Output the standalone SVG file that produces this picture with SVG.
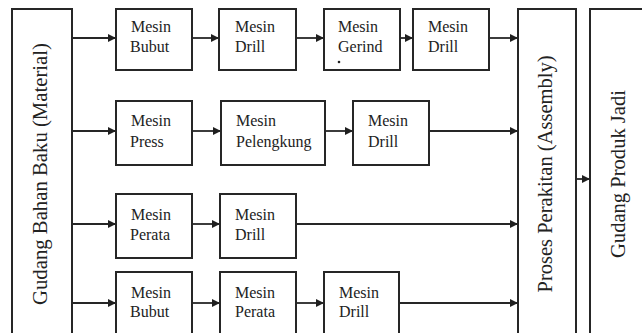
<svg xmlns="http://www.w3.org/2000/svg" width="642" height="333" viewBox="0 0 642 333">
  <style>
    .box { fill: #fff; stroke: #262626; stroke-width: 2; }
    .lbl { font-family: "Liberation Serif", "Times New Roman", serif; font-size: 16px; fill: #222; }
    .vlbl { font-family: "Liberation Serif", "Times New Roman", serif; font-size: 20px; fill: #222; text-anchor: middle; }
    .conn { fill: none; stroke: #262626; stroke-width: 1.8; marker-end: url(#arrow); }
  </style>
  <defs>
    <marker id="arrow" markerUnits="userSpaceOnUse" markerWidth="9" markerHeight="8" refX="8" refY="4" orient="auto">
      <path d="M0,0 L8,4 L0,8 z" fill="#1f1f1f"/>
    </marker>
  </defs>
  <rect width="642" height="333" fill="#fff"/>

  <!-- connectors -->
  <g id="connectors">
    <!-- row 1 -->
    <line class="conn" x1="72" y1="38" x2="116" y2="38"/>
    <line class="conn" x1="192" y1="38" x2="219" y2="38"/>
    <line class="conn" x1="296" y1="38" x2="324" y2="38"/>
    <line class="conn" x1="400" y1="38" x2="413" y2="38"/>
    <line class="conn" x1="489" y1="38" x2="518" y2="38"/>
    <!-- row 2 -->
    <line class="conn" x1="72" y1="131" x2="116" y2="131"/>
    <line class="conn" x1="192" y1="131" x2="221" y2="131"/>
    <line class="conn" x1="325" y1="131" x2="353" y2="131"/>
    <line class="conn" x1="429" y1="131" x2="518" y2="131"/>
    <!-- row 3 -->
    <line class="conn" x1="72" y1="224" x2="116" y2="224"/>
    <line class="conn" x1="192" y1="224" x2="220" y2="224"/>
    <line class="conn" x1="296" y1="224" x2="518" y2="224"/>
    <!-- row 4 -->
    <line class="conn" x1="72" y1="303" x2="116" y2="303"/>
    <line class="conn" x1="192" y1="303" x2="220" y2="303"/>
    <line class="conn" x1="296" y1="303" x2="324" y2="303"/>
    <line class="conn" x1="399" y1="303" x2="518" y2="303"/>
    <!-- assembly to finished goods -->
    <line class="conn" x1="576" y1="179" x2="590" y2="179"/>
  </g>

  <!-- raw material warehouse -->
  <g id="gudang-bahan">
    <rect class="box" x="12" y="9" width="60" height="340"/>
    <text class="vlbl" transform="translate(47,174) rotate(-90)" textLength="262" lengthAdjust="spacingAndGlyphs">Gudang Bahan Baku (Material)</text>
  </g>

  <!-- row 1 -->
  <g id="r1-bubut">
    <rect class="box" x="116" y="9" width="76" height="61"/>
    <text class="lbl" x="131" y="32">Mesin</text>
    <text class="lbl" x="130" y="52">Bubut</text>
  </g>
  <g id="r1-drill">
    <rect class="box" x="219" y="9" width="77" height="61"/>
    <text class="lbl" x="235" y="32">Mesin</text>
    <text class="lbl" x="235" y="52">Drill</text>
  </g>
  <g id="r1-gerind">
    <rect class="box" x="324" y="9" width="76" height="61"/>
    <text class="lbl" x="338" y="32">Mesin</text>
    <text class="lbl" x="338" y="52">Gerind</text>
    <circle cx="339" cy="62" r="1.3" fill="#222"/>
  </g>
  <g id="r1-drill2">
    <rect class="box" x="413" y="9" width="76" height="61"/>
    <text class="lbl" x="428" y="32">Mesin</text>
    <text class="lbl" x="428" y="52">Drill</text>
  </g>

  <!-- row 2 -->
  <g id="r2-press">
    <rect class="box" x="116" y="101" width="76" height="64"/>
    <text class="lbl" x="131" y="126">Mesin</text>
    <text class="lbl" x="130" y="147">Press</text>
  </g>
  <g id="r2-pelengkung">
    <rect class="box" x="221" y="101" width="104" height="64"/>
    <text class="lbl" x="236" y="126">Mesin</text>
    <text class="lbl" x="236" y="147">Pelengkung</text>
  </g>
  <g id="r2-drill">
    <rect class="box" x="353" y="101" width="76" height="64"/>
    <text class="lbl" x="368" y="126">Mesin</text>
    <text class="lbl" x="368" y="147">Drill</text>
  </g>

  <!-- row 3 -->
  <g id="r3-perata">
    <rect class="box" x="116" y="194" width="76" height="64"/>
    <text class="lbl" x="131" y="220">Mesin</text>
    <text class="lbl" x="130" y="240">Perata</text>
  </g>
  <g id="r3-drill">
    <rect class="box" x="220" y="194" width="76" height="64"/>
    <text class="lbl" x="235" y="220">Mesin</text>
    <text class="lbl" x="235" y="240">Drill</text>
  </g>

  <!-- row 4 -->
  <g id="r4-bubut">
    <rect class="box" x="116" y="272" width="76" height="80"/>
    <text class="lbl" x="131" y="298">Mesin</text>
    <text class="lbl" x="130" y="317">Bubut</text>
  </g>
  <g id="r4-perata">
    <rect class="box" x="220" y="272" width="76" height="80"/>
    <text class="lbl" x="235" y="298">Mesin</text>
    <text class="lbl" x="235" y="317">Perata</text>
  </g>
  <g id="r4-drill">
    <rect class="box" x="324" y="272" width="75" height="80"/>
    <text class="lbl" x="339" y="298">Mesin</text>
    <text class="lbl" x="339" y="317">Drill</text>
  </g>

  <!-- assembly -->
  <g id="proses-perakitan">
    <rect class="box" x="518" y="9" width="58" height="340"/>
    <text class="vlbl" transform="translate(552,174) rotate(-90)" textLength="237" lengthAdjust="spacingAndGlyphs">Proses Perakitan (Assembly)</text>
  </g>

  <!-- finished goods warehouse -->
  <g id="gudang-produk">
    <rect class="box" x="590" y="9" width="62" height="340"/>
    <text class="vlbl" transform="translate(625,174) rotate(-90)" textLength="168" lengthAdjust="spacingAndGlyphs">Gudang Produk Jadi</text>
  </g>
</svg>
